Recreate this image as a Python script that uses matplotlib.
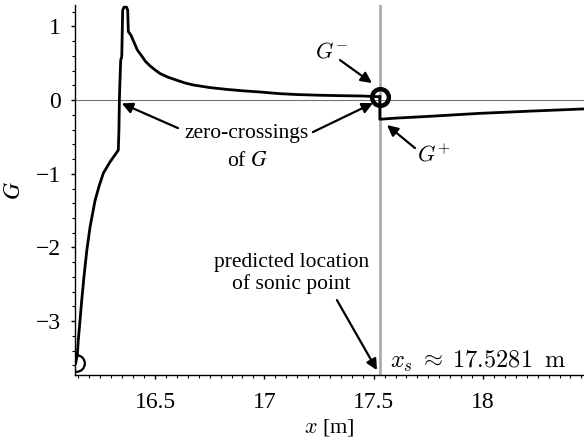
import matplotlib
matplotlib.use("Agg")
import matplotlib.pyplot as plt
from matplotlib.ticker import MultipleLocator, FuncFormatter

plt.rcParams["font.family"] = ["Liberation Serif", "DejaVu Serif"]
plt.rcParams["mathtext.fontset"] = "cm"

# G(x) upstream of the sonic point
x_left = [16.137, 16.145, 16.149, 16.157, 16.165, 16.175, 16.188, 16.203, 16.226,
          16.245, 16.264, 16.294, 16.332, 16.335, 16.337, 16.339, 16.343, 16.348,
          16.352, 16.358, 16.370, 16.375, 16.378, 16.390, 16.409, 16.419, 16.424,
          16.439, 16.455, 16.475, 16.500, 16.523, 16.560, 16.599, 16.640, 16.675,
          16.750, 16.828, 16.905, 16.980, 17.030, 17.072, 17.150, 17.250, 17.350,
          17.450, 17.528]
g_left = [-3.57, -3.45, -3.26, -2.99, -2.71, -2.40, -2.04, -1.72, -1.36,
          -1.16, -0.99, -0.84, -0.68, -0.41, 0.00, 0.19, 0.54, 0.59,
          1.22, 1.26, 1.26, 1.22, 0.93, 0.88, 0.75, 0.68, 0.66,
          0.60, 0.53, 0.47, 0.41, 0.36, 0.31, 0.27, 0.23, 0.205,
          0.17, 0.145, 0.125, 0.11, 0.097, 0.087, 0.075, 0.066, 0.060,
          0.055, 0.045]

# G(x) downstream of the sonic point
x_right = [17.5281, 17.5281, 17.60, 17.757, 17.986, 18.215, 18.460]
g_right = [0.045, -0.26, -0.245, -0.22, -0.18, -0.15, -0.12]

x_sonic = 17.5281

fig = plt.figure(figsize=(5.84, 4.43), dpi=100)
ax = fig.add_axes([0.1284, 0.1535, 0.8716, 0.8352])

ax.axhline(0, color="0.45", lw=0.8, zorder=1)
ax.axvline(x_sonic, color="0.68", lw=2.0, zorder=1)

ax.plot(x_left, g_left, color="black", lw=2.0, zorder=3)
ax.plot(x_right, g_right, color="black", lw=2.0, zorder=3)

# circles at the start point and at the jump
ax.plot(x_left[0], g_left[0], "o", mfc="none", mec="black", ms=12, mew=1.6, zorder=4)
ax.plot(x_sonic, g_left[-1], "o", mfc="none", mec="black", ms=12, mew=3.2, zorder=4)

ax.set_xlim(16.134, 18.462)
ax.set_ylim(-3.73, 1.29)

ax.set_xticks([16.5, 17, 17.5, 18])
ax.xaxis.set_minor_locator(MultipleLocator(0.05))
ax.yaxis.set_major_locator(MultipleLocator(1))
ax.yaxis.set_minor_locator(MultipleLocator(0.2))
ax.xaxis.set_major_formatter(FuncFormatter(lambda v, p: f"{v:g}"))
ax.yaxis.set_major_formatter(FuncFormatter(lambda v, p: f"{v:g}".replace("-", "\u2212")))

for s in ["top", "right"]:
    ax.spines[s].set_visible(False)
for s in ["left", "bottom"]:
    ax.spines[s].set_linewidth(1.0)

ax.tick_params(which="major", direction="out", length=3, width=1, labelsize=17, pad=9)
ax.tick_params(which="minor", direction="out", length=2, width=0.8)
ax.tick_params(axis="y", pad=7)

ax.set_xlabel("$x$ [m]", fontsize=16, labelpad=3)
ax.set_ylabel("$G$", fontsize=17, math_fontfamily="stix", labelpad=8)

arrow = dict(arrowstyle="-|>", color="black", lw=1.6, mutation_scale=16,
             shrinkA=0, shrinkB=0)

def pointer(tail, head):
    ax.annotate("", xy=head, xytext=tail, arrowprops=arrow, zorder=5)

ax.text(17.305, 0.64, "$G^{-}$", fontsize=16, ha="center", va="center")
pointer((17.346, 0.543), (17.492, 0.231))

ax.text(17.775, -0.75, "$G^{+}$", fontsize=16, ha="center", va="center")
pointer((17.689, -0.651), (17.561, -0.339))

ax.text(16.918, -0.46, "zero-crossings", fontsize=15.5, ha="center", va="center")
ax.text(16.921, -0.83, "of $G$", fontsize=15.5, ha="center", va="center",
        math_fontfamily="stix")
pointer((17.222, -0.434), (17.497, -0.041))
pointer((16.605, -0.38), (16.348, -0.045))

ax.text(17.124, -2.35, "predicted location\nof sonic point", fontsize=15.5,
        ha="center", va="center", linespacing=1.15)
pointer((17.332, -2.714), (17.515, -3.664))

ax.text(17.575, -3.64, r"$x_s\;\approx\;17.5281\;\;\mathrm{m}$", fontsize=17.5,
        ha="left", va="baseline")

fig.savefig("out.png", dpi=100)
